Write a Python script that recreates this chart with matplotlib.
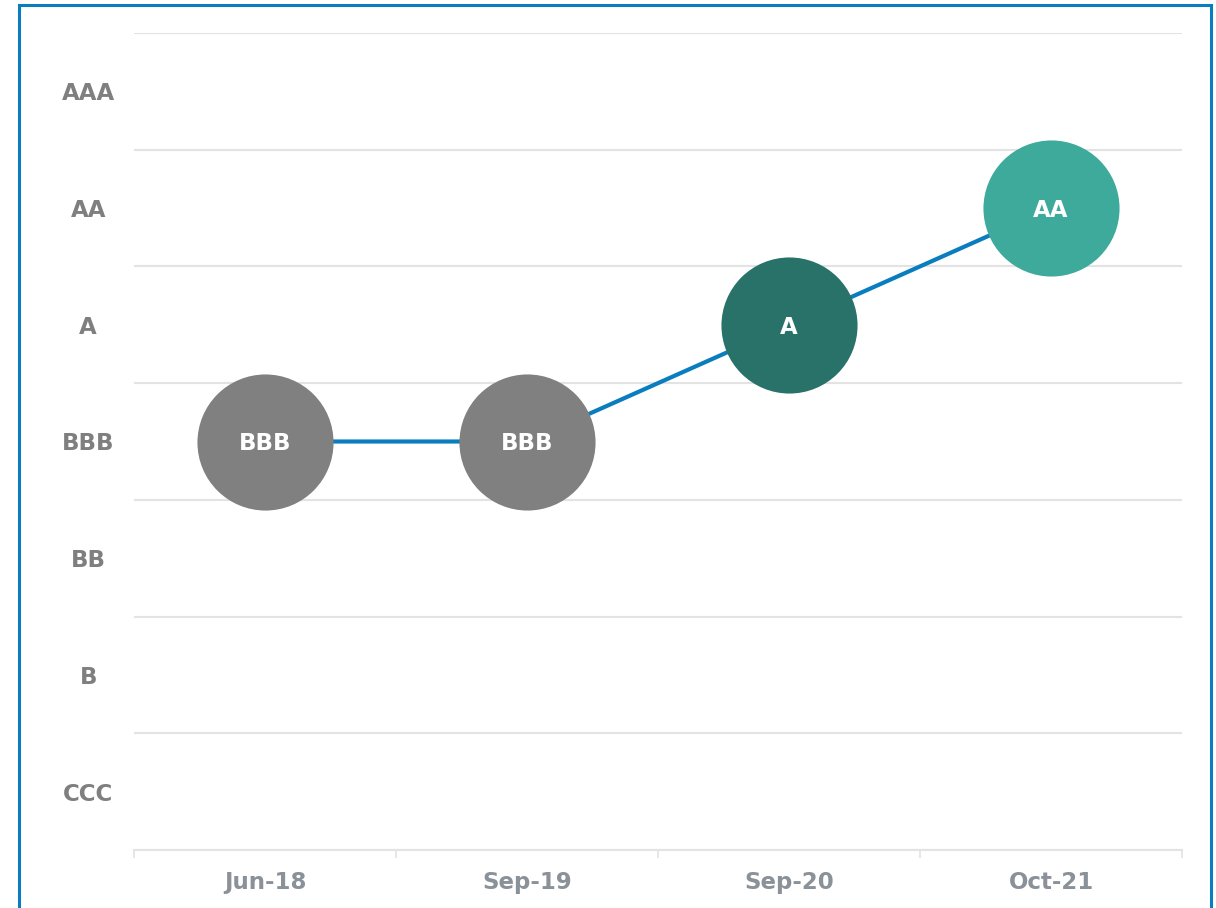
import matplotlib.pyplot as plt
from matplotlib.patches import Rectangle

dates = ['Jun-18', 'Sep-19', 'Sep-20', 'Oct-21']
ratings = ['CCC', 'B', 'BB', 'BBB', 'A', 'AA', 'AAA']
history = ['BBB', 'BBB', 'A', 'AA']
dot_colors = ['#808080', '#808080', '#28726a', '#3eaa9c']

line_color = '#0a7dbf'
label_gray = '#7f7f7f'
date_gray = '#8a9199'
grid_gray = '#e3e3e3'


def render_chart():
    fig = plt.figure(figsize=(12.16, 9.08), dpi=100)
    ax = fig.add_axes([134 / 1216, 1 - 850 / 908, 1048 / 1216, 817 / 908])

    x = [i + 0.5 for i in range(len(dates))]
    y = [ratings.index(r) + 0.5 for r in history]

    ax.plot(x, y, color=line_color, lw=3, zorder=2, solid_capstyle='butt')
    for xi, yi, c, r in zip(x, y, dot_colors, history):
        ax.plot(xi, yi, 'o', ms=98, color=c, mec='none', zorder=3)
        ax.text(xi, yi, r, color='white', fontsize=16.5, fontweight='bold',
                ha='center', va='center_baseline', zorder=4)

    ax.set_xlim(0, len(dates))
    ax.set_ylim(0, len(ratings))

    ax.set_yticks(range(len(ratings) + 1))
    ax.set_yticklabels([])
    ax.set_yticks([i + 0.5 for i in range(len(ratings))], minor=True)
    ax.set_yticklabels(ratings, minor=True)
    ax.tick_params(axis='y', which='both', length=0)
    ax.tick_params(axis='y', which='minor', pad=33, labelsize=16.5,
                   labelcolor=label_gray)
    for t in ax.get_yticklabels(minor=True):
        t.set_ha('center')
        t.set_fontweight('bold')

    ax.set_xticks(range(len(dates) + 1))
    ax.set_xticklabels([])
    ax.set_xticks(x, minor=True)
    ax.set_xticklabels(dates, minor=True)
    ax.tick_params(axis='x', which='major', length=6, width=1.2,
                   color=grid_gray, direction='out')
    ax.tick_params(axis='x', which='minor', length=0, pad=15,
                   labelsize=16.5, labelcolor=date_gray)
    for t in ax.get_xticklabels(minor=True):
        t.set_fontweight('bold')

    ax.grid(axis='y', which='major', color=grid_gray, lw=1.5)
    for s in ['top', 'right', 'left']:
        ax.spines[s].set_visible(False)
    ax.spines['bottom'].set_color(grid_gray)
    ax.spines['bottom'].set_linewidth(1.5)
    ax.set_axisbelow(True)

    # blue frame round the whole figure, bottom edge falls outside the picture
    fig.patches.append(Rectangle((19 / 1216, -0.05), 1192 / 1216, 1.05 - 5 / 908,
                                 transform=fig.transFigure, fill=False,
                                 ec=line_color, lw=2.2))

    fig.savefig('out.png', dpi=100)


if __name__ == '__main__':
    render_chart()
